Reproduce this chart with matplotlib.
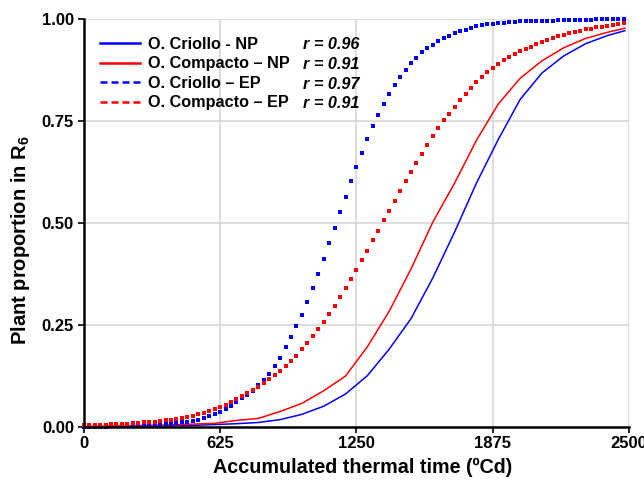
import numpy as np
import matplotlib
matplotlib.use("Agg")
import matplotlib.pyplot as plt
from matplotlib.lines import Line2D

plt.rcParams['font.family'] = ['Liberation Sans', 'DejaVu Sans']
plt.rcParams['mathtext.fontset'] = 'custom'
plt.rcParams['mathtext.rm'] = 'Liberation Sans:bold'
plt.rcParams['mathtext.default'] = 'rm'

# NP curves (solid lines), read every 100 Cd
x_np = [0, 100, 200, 300, 400, 500, 600, 700, 800, 900, 1000, 1100, 1200,
        1300, 1400, 1500, 1600, 1700, 1800, 1900, 2000, 2100, 2200, 2300, 2400, 2480]
criollo_np = [0.0, 0.0, 0.001, 0.001, 0.002, 0.003, 0.005, 0.007, 0.010, 0.017, 0.030,
              0.050, 0.080, 0.125, 0.190, 0.265, 0.365, 0.478, 0.598, 0.705, 0.803,
              0.868, 0.910, 0.940, 0.960, 0.972]
compacto_np = [0.0, 0.001, 0.002, 0.003, 0.004, 0.006, 0.008, 0.015, 0.020, 0.037, 0.057,
               0.088, 0.124, 0.196, 0.283, 0.387, 0.502, 0.598, 0.703, 0.792, 0.855,
               0.898, 0.930, 0.953, 0.968, 0.978]

# EP curves (dotted), one point every 25 Cd from 0 to 2475
x_ep = np.arange(0, 2500, 25)
criollo_ep = [0.000, 0.000, 0.000, 0.000, 0.000, 0.001, 0.001, 0.001, 0.001, 0.002,
              0.002, 0.003, 0.003, 0.004, 0.005, 0.006, 0.007, 0.008, 0.010, 0.012,
              0.014, 0.017, 0.020, 0.025, 0.030, 0.036, 0.043, 0.051, 0.060, 0.069,
              0.078, 0.088, 0.101, 0.115, 0.130, 0.149, 0.169, 0.195, 0.219, 0.247,
              0.275, 0.307, 0.341, 0.375, 0.411, 0.451, 0.488, 0.526, 0.564, 0.603,
              0.637, 0.672, 0.705, 0.738, 0.766, 0.792, 0.817, 0.839, 0.858, 0.876,
              0.893, 0.906, 0.919, 0.929, 0.937, 0.947, 0.953, 0.960, 0.966, 0.971,
              0.974, 0.979, 0.983, 0.985, 0.988, 0.989, 0.991, 0.992, 0.993, 0.994,
              0.995, 0.995, 0.996, 0.996, 0.997, 0.997, 0.997, 0.998, 0.998, 0.998,
              0.999, 0.999, 0.999, 0.999, 1.000, 1.000, 1.000, 1.000, 1.000, 1.000]
compacto_ep = [0.004, 0.004, 0.004, 0.005, 0.005, 0.006, 0.006, 0.007, 0.007, 0.008,
               0.009, 0.010, 0.011, 0.012, 0.013, 0.015, 0.017, 0.019, 0.022, 0.024,
               0.027, 0.030, 0.034, 0.038, 0.043, 0.048, 0.054, 0.061, 0.068, 0.075,
               0.082, 0.090, 0.098, 0.107, 0.117, 0.126, 0.137, 0.148, 0.160, 0.173,
               0.190, 0.205, 0.222, 0.239, 0.257, 0.276, 0.297, 0.317, 0.341, 0.362,
               0.384, 0.408, 0.431, 0.457, 0.480, 0.506, 0.530, 0.554, 0.579, 0.603,
               0.626, 0.648, 0.669, 0.691, 0.713, 0.732, 0.752, 0.768, 0.785, 0.801,
               0.816, 0.831, 0.846, 0.858, 0.870, 0.880, 0.891, 0.900, 0.908, 0.915,
               0.921, 0.927, 0.933, 0.939, 0.944, 0.949, 0.954, 0.958, 0.962, 0.966,
               0.969, 0.972, 0.975, 0.977, 0.980, 0.982, 0.984, 0.986, 0.988, 0.990]

labels = ["O. Criollo - NP", "O. Compacto \u2013 NP", "O. Criollo \u2013 EP", "O. Compacto \u2013 EP"]
r_vals = ["r = 0.96", "r = 0.91", "r = 0.97", "r = 0.91"]

blue = "#0000ff"
red = "#ff0000"

fig = plt.figure(figsize=(6.44, 4.82), dpi=100)
ax = fig.add_axes([0.130, 0.115, 0.847, 0.845])

ax.plot(x_np, criollo_np, color=blue, lw=1.1, zorder=3)
ax.plot(x_np, compacto_np, color=red, lw=1.1, zorder=3)
ax.plot(x_ep, criollo_ep, ls="none", marker="s", ms=3.0, mew=0, color=blue, zorder=4, clip_on=False)
ax.plot(x_ep, compacto_ep, ls="none", marker="s", ms=3.0, mew=0, color=red, zorder=4, clip_on=False)

ax.set_xlim(0, 2500)
ax.set_ylim(0, 1.0)
ax.set_xticks([0, 625, 1250, 1875, 2500])
ax.set_yticks([0, 0.25, 0.5, 0.75, 1.0])
ax.set_yticklabels(["0.00", "0.25", "0.50", "0.75", "1.00"])
ax.grid(True, color="#d4d4d4", lw=1.1)
ax.set_axisbelow(True)
for s in ["top", "right"]:
    ax.spines[s].set_visible(False)
for s in ["left", "bottom"]:
    ax.spines[s].set_linewidth(1.8)
    ax.spines[s].set_zorder(5)
ax.tick_params(direction="out", length=4, width=1.2, labelsize=12, pad=3)
for t in ax.get_xticklabels() + ax.get_yticklabels():
    t.set_fontweight("bold")

ax.set_xlabel("Accumulated thermal time (\u00baCd)", fontsize=14.2, fontweight="bold")
ax.set_ylabel("Plant proportion in R$_{6}$", fontsize=14.5, fontweight="bold")
ax.xaxis.set_label_coords(0.511, -0.078)
ax.yaxis.set_label_coords(-0.094, 0.458)

handles = [Line2D([], [], color=blue, lw=1.8),
           Line2D([], [], color=red, lw=1.8),
           Line2D([], [], color=blue, lw=1.8, dashes=(2.8, 1.6)),
           Line2D([], [], color=red, lw=1.8, dashes=(2.8, 1.6))]
leg = ax.legend(handles, labels, loc="upper left", bbox_to_anchor=(0.029, 0.957),
                frameon=False, borderaxespad=0, borderpad=0, handlelength=2.5,
                handletextpad=0.5, labelspacing=0.28,
                prop={"weight": "bold", "size": 11.7})

row_y = [0.937, 0.890, 0.841, 0.794]
for ry, rv in zip(row_y, r_vals):
    ax.text(0.402, ry, rv, transform=ax.transAxes, fontsize=11.7, fontweight="bold",
            fontstyle="italic", va="center", ha="left")

fig.savefig("out.png", dpi=100)
